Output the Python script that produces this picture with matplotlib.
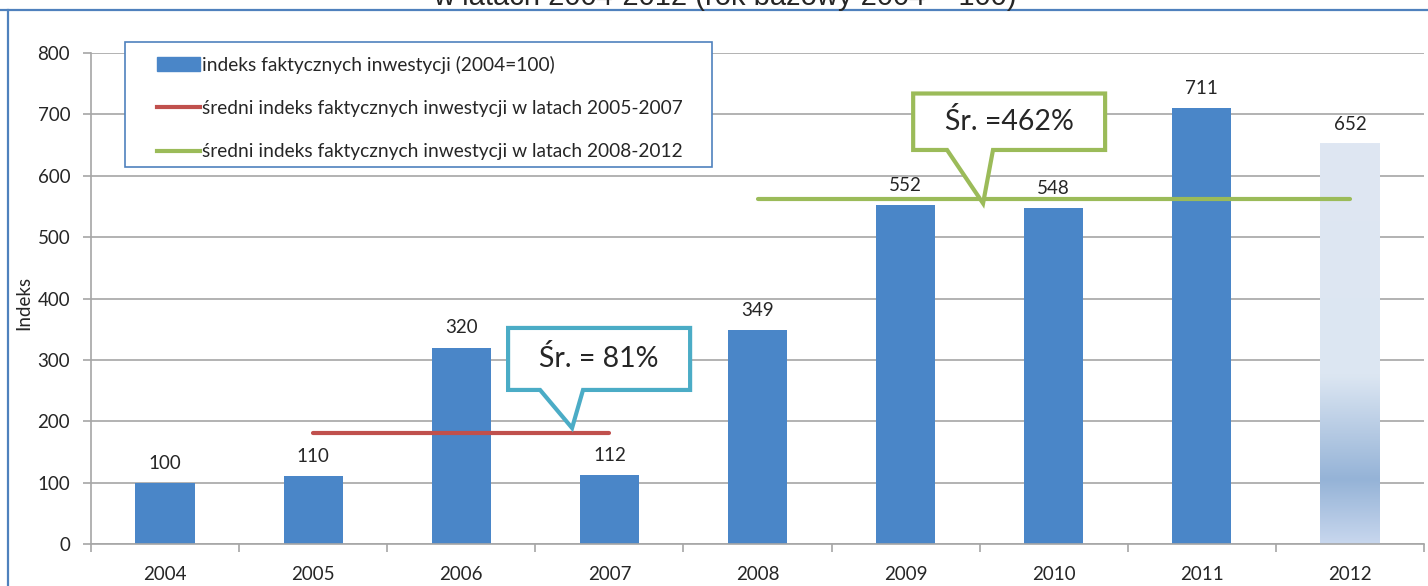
import matplotlib
matplotlib.use("Agg")
import matplotlib.pyplot as plt
import numpy as np
from matplotlib.colors import LinearSegmentedColormap
from matplotlib.lines import Line2D
from matplotlib.patches import Polygon, Rectangle

plt.rcParams['font.family'] = ['Lato', 'DejaVu Sans']

years = ["2004", "2005", "2006", "2007", "2008", "2009", "2010", "2011", "2012"]
index_values = [100, 110, 320, 112, 349, 552, 548, 711, 652]
avg_2005_2007 = 181
avg_2008_2012 = 562
avg_label_1 = "Śr. = 81%"
avg_label_2 = "Śr. =462%"

legend_labels = [
    "indeks faktycznych inwestycji (2004=100)",
    "średni indeks faktycznych inwestycji w latach 2005-2007",
    "średni indeks faktycznych inwestycji w latach 2008-2012",
]
title = "w latach 2004-2012 (rok bazowy 2004 = 100)"

bar_color = "#4A86C8"
red = "#C0504D"
green = "#9BBB59"
teal = "#4BACC6"
frame_blue = "#4F81BD"
grid_gray = "#A6A6A6"
text_color = "#262626"

fig = plt.figure(figsize=(14.28, 5.86), dpi=100)
ax = fig.add_axes([91 / 1428, 1 - 544 / 586, 1333 / 1428, 491 / 586])

x = np.arange(len(years))
bars = ax.bar(x, index_values, width=0.40, color=bar_color, zorder=2)

# last bar (2012, forecast) drawn with a vertical gradient
last = bars[-1]
last.set_facecolor("none")
grad = LinearSegmentedColormap.from_list(
    "fc", [(0.0, "#C8D7EE"), (0.16, "#95B3D7"), (0.42, "#DCE6F2"), (1.0, "#DFE7F3")])
ax.imshow(np.linspace(0, 1, 256).reshape(-1, 1), cmap=grad, origin="lower",
          aspect="auto", zorder=2,
          extent=(last.get_x(), last.get_x() + last.get_width(), 0, last.get_height()))

for xi, v in zip(x, index_values):
    ax.annotate(str(v), (xi, v), xytext=(0, 8), textcoords="offset points",
                ha="center", va="bottom", fontsize=13.5, color=text_color)

ax.plot([1, 3], [avg_2005_2007] * 2, color=red, lw=3, solid_capstyle="round", zorder=3)
ax.plot([4, 8], [avg_2008_2012] * 2, color=green, lw=3, solid_capstyle="round", zorder=3)

# callouts
def callout(left, right, bottom, top, tl, tr, tip, color, label):
    pts = [(left, bottom), (tl, bottom), tip, (tr, bottom), (right, bottom),
           (right, top), (left, top)]
    ax.add_patch(Polygon(pts, closed=True, facecolor="white", edgecolor=color,
                         lw=3, joinstyle="miter", zorder=6))
    ax.text((left + right) / 2, (bottom + top) / 2, label, ha="center", va="center",
            fontsize=20.5, color=text_color, zorder=7)

callout(2.316, 3.545, 251, 352, 2.532, 2.822, (2.748, 189), teal, avg_label_1)
callout(5.051, 6.347, 642, 734, 5.28, 5.59, (5.523, 555), green, avg_label_2)

ax.set_xlim(-0.5, len(years) - 0.5)
ax.set_ylim(0, 800)
ax.set_yticks(range(0, 801, 100))
ax.set_xticks(x)
ax.set_xticklabels(years)
ax.set_xticks(np.arange(-0.5, len(years)), minor=True)
ax.tick_params(axis="x", which="major", length=0, pad=16, labelsize=13.5, colors=text_color)
ax.tick_params(axis="x", which="minor", length=6, width=1.2, color=grid_gray)
ax.tick_params(axis="y", length=6, width=1.2, color=grid_gray, pad=9,
               labelsize=13.5, labelcolor=text_color)
ax.grid(axis="y", color=grid_gray, lw=1.2)
ax.set_axisbelow(True)
for s in ["top", "right"]:
    ax.spines[s].set_visible(False)
for s in ["left", "bottom"]:
    ax.spines[s].set_color(grid_gray)
    ax.spines[s].set_linewidth(1.2)

ax.set_ylabel("Indeks", fontsize=13.5, color=text_color)
ax.yaxis.set_label_coords(-0.044, 0.49)

# legend box
ax.add_patch(Rectangle((0.0255, 0.7678), 0.4404, 0.2546, transform=ax.transAxes,
                       facecolor="white", edgecolor=frame_blue, lw=1.2,
                       clip_on=False, zorder=4))
handles = [Rectangle((0, 0), 1, 1, color=bar_color),
           Line2D([], [], color=red, lw=3),
           Line2D([], [], color=green, lw=3)]
ax.legend(handles, legend_labels, loc="upper left", bbox_to_anchor=(0.0495, 0.995),
          frameon=False, fontsize=13.8, handlelength=2.25, handletextpad=0.1,
          labelspacing=1.38, borderpad=0, borderaxespad=0, labelcolor=text_color)

# outer frame and the cut-off title
fig.add_artist(Line2D([0, 1], [1 - 10 / 586] * 2, color=frame_blue, lw=1.6))
fig.add_artist(Line2D([8 / 1428] * 2, [0, 1 - 10 / 586], color=frame_blue, lw=1.6))
fig.text(725 / 1428, 1 - 5 / 586, title, ha="center", va="baseline",
         fontsize=21, family="Liberation Sans", color=text_color)

fig.savefig("out.png", dpi=100)
